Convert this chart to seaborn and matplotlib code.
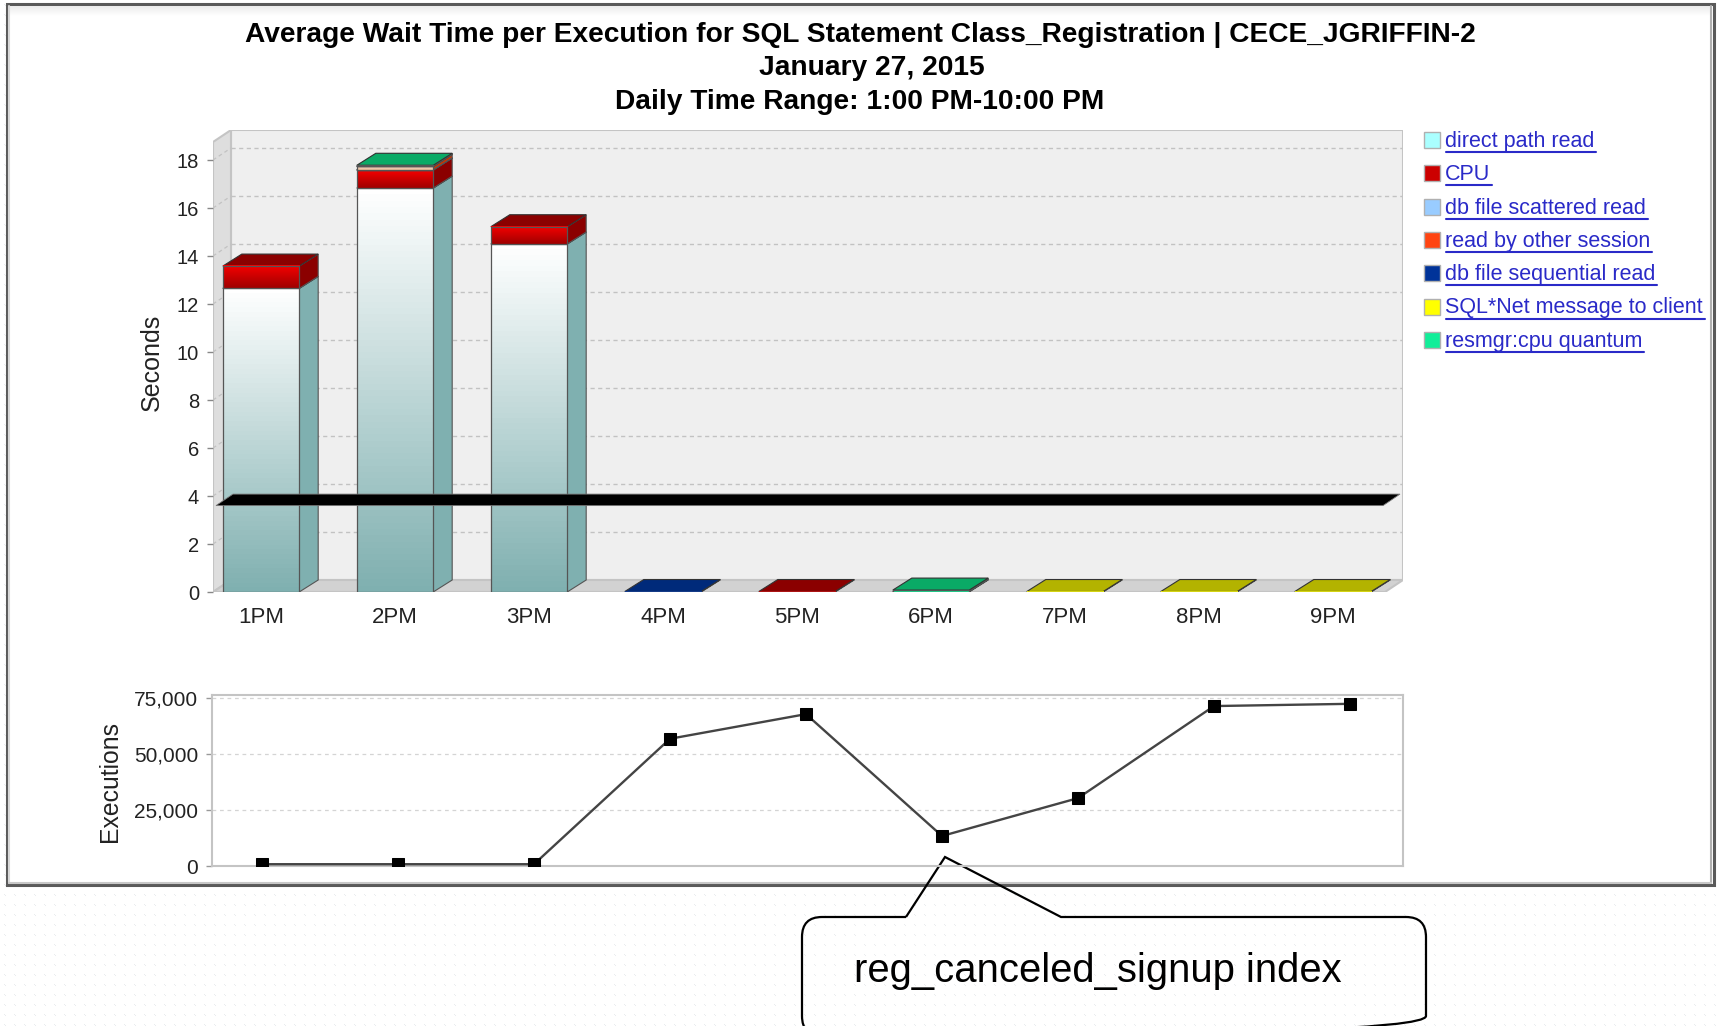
import numpy as np
import matplotlib
matplotlib.use("Agg")
import matplotlib.pyplot as plt
import seaborn as sns
from matplotlib.colors import LinearSegmentedColormap
from matplotlib.patches import Polygon, Rectangle, PathPatch
from matplotlib.path import Path

# data
hours = ["1PM", "2PM", "3PM", "4PM", "5PM", "6PM", "7PM", "8PM", "9PM"]
direct_path = [12.65, 16.83, 14.5, 0, 0, 0, 0, 0, 0]
cpu = [0.93, 0.75, 0.72, 0, 0.02, 0.02, 0, 0, 0]
scattered = [0, 0.01, 0, 0, 0, 0, 0, 0, 0]
read_other = [0, 0.14, 0, 0, 0, 0, 0, 0, 0]
sequential = [0, 0.01, 0, 0.02, 0, 0, 0, 0, 0]
sqlnet = [0, 0, 0, 0, 0, 0, 0.02, 0.02, 0.02]
resmgr = [0, 0.04, 0, 0, 0, 0.06, 0, 0, 0]
threshold = 3.6
executions = [800, 800, 800, 56800, 67800, 13400, 30300, 71400, 72400]

legend_names = ["direct path read", "CPU", "db file scattered read", "read by other session",
                "db file sequential read", "SQL*Net message to client", "resmgr:cpu quantum"]
legend_colors = ["#aaffff", "#cc0000", "#99ccff", "#ff4411", "#003399", "#ffff00", "#11ee99"]
top_colors = ["#7fb0b0", "#8b0000", "#6699cc", "#cc3300", "#002a7a", "#b3b300", "#0aaa66"]
grad_top = ["#ffffff", "#f50000", "#cce4ff", "#f4dcc8", "#003399", "#ffff00", "#11ee99"]
grad_bottom = ["#7fb0b0", "#a00000", "#99ccff", "#e8b898", "#003399", "#ffff00", "#11ee99"]
title_lines = ["Average Wait Time per Execution for SQL Statement Class_Registration | CECE_JGRIFFIN-2",
               "January 27, 2015", "Daily Time Range: 1:00 PM-10:00 PM"]

W, H = 1721, 1026
sns.set_style("white")
plt.rcParams["font.family"] = ["Liberation Sans", "DejaVu Sans"]
TXT = "#222222"
GRID = "#c2c2c2"
EDGE = "#c4c4c4"

fig = plt.figure(figsize=(W / 100, H / 100), dpi=100)


def px_axes(left, top, right, bottom, **kw):
    return fig.add_axes([left / W, 1 - bottom / H, (right - left) / W, (bottom - top) / H], **kw)


# page layer in pixel coordinates: dots, frame, legend, title, callout
bg = px_axes(0, 0, W, H)
bg.set_xlim(0, W)
bg.set_ylim(H, 0)
bg.axis("off")
dots = np.ones((H, W))
dots[4::10, 4::10] = 0.0
dots[5::10, 5::10] = 0.0
bg.imshow(dots, cmap=LinearSegmentedColormap.from_list("d", ["#e9ecee", "#ffffff"]), extent=(0, W, H, 0),
          aspect="auto", interpolation="bilinear", zorder=0)
bg.add_patch(Rectangle((7, 4), 1707, 881, fc="white", ec="#5a5a5a", lw=2.2, zorder=1))
bg.imshow(np.linspace(0, 1, 20).reshape(-1, 1), cmap=LinearSegmentedColormap.from_list("t", ["#ececec", "#ffffff"]),
          extent=(9, 1712, 16, 6), aspect="auto", zorder=1.5)
bg.plot([9, 9], [6, 883], color="#d8d8d8", lw=1.5, zorder=1.5)
bg.plot([1711, 1711], [6, 883], color="#b0b0b0", lw=1.5, zorder=1.5)
bg.plot([9, 1711], [883, 883], color="#c8c8c8", lw=1.5, zorder=1.5)
bg.set_xlim(0, W)
bg.set_ylim(H, 0)

for txt, x, y in zip(title_lines, [860, 872, 860], [35, 68, 102]):
    bg.text(x, y, txt, ha="center", va="center", fontsize=20.25, fontweight="bold", color="black", zorder=2)

renderer = fig.canvas.get_renderer()
for i, (name, c) in enumerate(zip(legend_names, legend_colors)):
    y = 140 + i * 33.3
    bg.add_patch(Rectangle((1424, y - 8), 16, 16, fc=c, ec="#b0b0b0", lw=1, zorder=2))
    t = bg.text(1445, y + 1.5, name, ha="left", va="center", fontsize=15.5, color="#2a2ac8", zorder=2)
    ext = t.get_window_extent(renderer)
    bg.plot([ext.x0 + 1, ext.x1 + 2], [y + 12, y + 12], color="#2a2ac8", lw=1.5, zorder=2)

# callout outline, open where the pointer joins it
r = 20
co_left, co_right, co_top, co_bottom = 802, 1426, 917, 1036
verts = [(906, co_top), (co_left + r, co_top), (co_left, co_top), (co_left, co_top + r), (co_left, co_bottom - r),
         (co_left, co_bottom), (co_left + r, co_bottom), (co_right - r, co_bottom), (co_right, co_bottom),
         (co_right, co_bottom - r), (co_right, co_top + r), (co_right, co_top), (co_right - r, co_top),
         (1061, co_top), (945, 857), (906, co_top)]
codes = [Path.MOVETO, Path.LINETO, Path.CURVE3, Path.CURVE3, Path.LINETO, Path.CURVE3, Path.CURVE3, Path.LINETO,
         Path.CURVE3, Path.CURVE3, Path.LINETO, Path.CURVE3, Path.CURVE3, Path.LINETO, Path.LINETO, Path.LINETO]
bg.add_patch(PathPatch(Path(verts, codes), fc="none", ec="black", lw=1.6, zorder=5))
bg.text(854, 971, "reg_canceled_signup index", ha="left", va="center", fontsize=28.8, color="black", zorder=5)

# top chart
ax = px_axes(213, 130, 1403, 592)
ax.patch.set_alpha(0)
x_unit, y_unit = 134.0, 24.0
xlim = ((213 - 261) / x_unit, (1403 - 261) / x_unit)
ylim = (0, (592 - 130) / y_unit)
dx, dy = 19 / x_unit, 12 / y_unit
wall_x = xlim[0] + 18 / x_unit
front_right = xlim[1] - 18 / x_unit

ax.add_patch(Polygon([(wall_x, dy), (xlim[1], dy), (xlim[1], ylim[1]), (wall_x, ylim[1])],
                     fc="#efefef", ec=EDGE, lw=1.5, zorder=0.5))
ax.add_patch(Polygon([(xlim[0], 0), (wall_x, dy), (wall_x, ylim[1]), (xlim[0], ylim[1] - dy)],
                     fc="#dedede", ec=EDGE, lw=1.5, zorder=0.5))
ax.add_patch(Polygon([(xlim[0], 0), (front_right, 0), (xlim[1], dy), (wall_x, dy)],
                     fc="#d2d2d2", ec=EDGE, lw=1.5, zorder=0.5))
for v in range(2, 20, 2):
    ax.plot([wall_x, xlim[1]], [v + dy, v + dy], color=GRID, lw=1.0, ls=(0, (3, 2.5)), zorder=0.6)
    ax.plot([xlim[0], wall_x], [v, v + dy], color=GRID, lw=0.9, ls=(0, (3, 2.5)), zorder=0.6)

series = [direct_path, cpu, scattered, read_other, sequential, sqlnet, resmgr]
bottoms = np.zeros(len(hours))
for k, vals in enumerate(series):
    n_before = len(ax.patches)
    sns.barplot(x=hours, y=vals, bottom=bottoms, color=grad_bottom[k], saturation=1, width=0.57,
                errorbar=None, ax=ax, zorder=2, linewidth=0)
    cmap = LinearSegmentedColormap.from_list("g%d" % k, [grad_bottom[k], grad_top[k]])
    z = 2 + 0.1 * k  # each stacked block sits over the lid of the one below
    for bar in ax.patches[n_before:]:
        h = bar.get_height()
        if h <= 0:
            continue
        x0, b = bar.get_x(), bar.get_y()
        x1, t = x0 + bar.get_width(), b + h
        ax.add_patch(Polygon([(x1, b), (x1 + dx, b + dy), (x1 + dx, t + dy), (x1, t)],
                             fc=top_colors[k], ec="#555555", lw=0.8, zorder=z))
        ax.add_patch(Polygon([(x0, t), (x1, t), (x1 + dx, t + dy), (x0 + dx, t + dy)],
                             fc=top_colors[k], ec="#333333", lw=0.8, zorder=z))
        ax.imshow(np.linspace(0, 1, 64).reshape(-1, 1), cmap=cmap, origin="lower", aspect="auto",
                  extent=(x0, x1, b, t), zorder=z + 0.01)
        ax.plot([x0, x0, x1, x1, x0], [b, t, t, b, b], color="#555555", lw=0.9, zorder=z + 0.02)
    bottoms = bottoms + np.array(vals)

# black threshold band across the whole plot
band_left = xlim[0] + 3 / x_unit
band_right = xlim[1] - 20 / x_unit
ax.add_patch(Polygon([(band_left, threshold), (band_right, threshold), (band_right + 17 / x_unit, threshold + 11.5 / y_unit),
                      (band_left + 17 / x_unit, threshold + 11.5 / y_unit)], fc="black", ec="#777777", lw=0.6, zorder=4))

ax.set_xlim(xlim)
ax.set_ylim(ylim)
ax.set_yticks(range(0, 20, 2))
ax.set_xticks(range(len(hours)))
ax.set_xticklabels(hours)
ax.grid(False)
for s in ax.spines.values():
    s.set_visible(False)
ax.tick_params(axis="y", length=4, width=1, color="#888888", pad=6, labelsize=14.5, labelcolor=TXT, left=True)
ax.tick_params(axis="x", length=0, pad=10.5, labelsize=16, labelcolor=TXT)
ax.set_xlabel("")
ax.set_ylabel("")
bg.text(152, 362, "Seconds", rotation=90, ha="center", va="center", fontsize=18, color=TXT, zorder=2)

# bottom chart
ax2 = px_axes(212, 695, 1403, 866)
ax2.patch.set_alpha(0)
sns.lineplot(x=hours, y=executions, sort=False, color="#444444", lw=1.7, marker="s", ms=9, mfc="black", mec="black",
             ax=ax2, zorder=3)
ax2.set_xlim((212 - 262) / 136.0, (1403 - 262) / 136.0)
ax2.set_ylim(0, 171 * 75000 / 168)
ax2.set_yticks([0, 25000, 50000, 75000])
ax2.set_yticklabels(["0", "25,000", "50,000", "75,000"])
ax2.set_xticks([])
ax2.set_xlabel("")
ax2.set_ylabel("")
ax2.grid(axis="y", color="#d4d4d4", lw=0.9, ls=(0, (3, 3)))
ax2.tick_params(axis="y", length=4, width=1, color="#999999", pad=6, labelsize=15, labelcolor=TXT, left=True)
for s in ax2.spines.values():
    s.set_color(EDGE)
    s.set_linewidth(1.5)
bg.text(110, 781, "Executions", rotation=90, ha="center", va="center", fontsize=17.8, color=TXT, zorder=2)

fig.savefig("out.png", dpi=100)
